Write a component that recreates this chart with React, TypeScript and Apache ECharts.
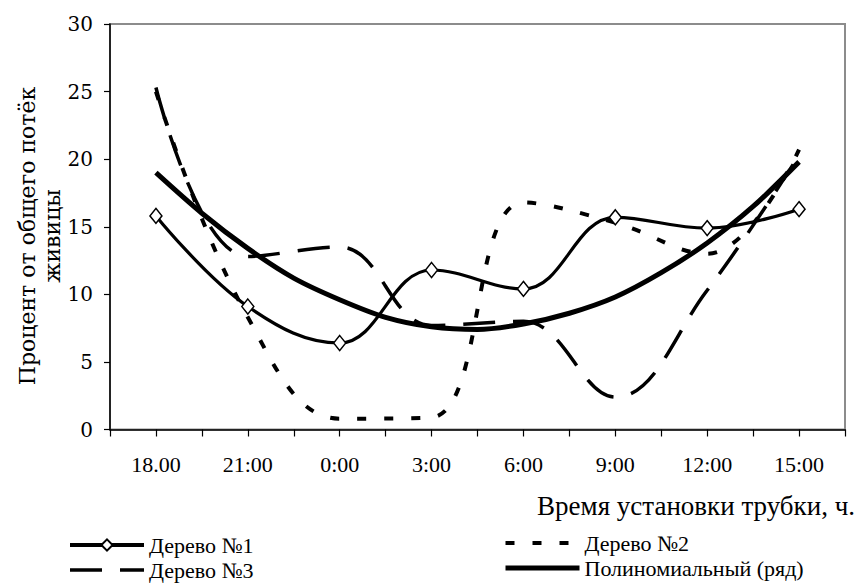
import React, { useEffect, useRef } from "react";
import * as echarts from "echarts";

const timeLabels = ["18.00", "21:00", "0:00", "3:00", "6:00", "9:00", "12:00", "15:00"];
const xSlots = [1, 3, 5, 7, 9, 11, 13, 15];
const tree1 = [15.8, 9.1, 6.4, 11.8, 10.4, 15.7, 14.9, 16.3];
const tree2 = [25.0, 8.3, 0.8, 0.9, 16.8, 15.3, 13.0, 20.7];
const tree3 = [25.3, 12.8, 13.5, 7.7, 8.0, 2.4, 10.3, 20.3];
// trend curve read at every tick (half-step) position
const polySlots = [1, 2, 3, 4, 5, 6, 7, 8, 9, 10, 11, 12, 13, 14, 15];
const poly = [19.0, 16.0, 13.4, 11.2, 9.6, 8.3, 7.6, 7.4, 7.8, 8.6, 9.8, 11.6, 13.8, 16.5, 19.8];
const seriesNames = ["Дерево №1", "Дерево №2", "Дерево №3", "Полиномиальный (ряд)"];
const yTitle = "Процент от общего потёк\nживицы";
const xTitle = "Время установки трубки, ч.";

const pairs = (xs: number[], vals: number[]) => xs.map((x, i) => [x, vals[i]]);

export default function App() {
  const ref = useRef<HTMLDivElement>(null);
  useEffect(() => {
    if (!ref.current) return;
    const chart = echarts.init(ref.current, undefined, { renderer: "svg" });
    const serif = "'Liberation Serif', 'Times New Roman', serif";
    const tickFont = "'DejaVu Serif', 'Liberation Serif', serif";
    const labelMap: Record<number, string> = {};
    xSlots.forEach((x, i) => (labelMap[x] = timeLabels[i]));
    const noMark = { color: "rgba(0,0,0,0)", borderWidth: 0 };
    const legendText = { fontFamily: serif, fontSize: 22, color: "#000", lineHeight: 24 };
    chart.setOption({
      animation: false,
      backgroundColor: "#fff",
      grid: {
        left: 110,
        right: 16,
        top: 24,
        bottom: 154.5,
        show: true,
        borderColor: "#8c8c8c",
        borderWidth: 2,
        backgroundColor: "transparent",
      },
      xAxis: {
        type: "value",
        min: 0,
        max: 16,
        interval: 1,
        axisLine: { show: true, onZero: false, lineStyle: { color: "#000", width: 1.5 } },
        axisTick: { show: true, inside: false, length: 7, lineStyle: { color: "#000", width: 1.2 } },
        splitLine: { show: false },
        axisLabel: {
          margin: 24,
          fontFamily: serif,
          fontSize: 22,
          color: "#000",
          formatter: (v: number) => labelMap[v] || "",
        },
      },
      yAxis: {
        type: "value",
        min: 0,
        max: 30,
        interval: 5,
        axisLine: { show: true, lineStyle: { color: "#000", width: 1.5 } },
        axisTick: { show: true, inside: false, length: 6, lineStyle: { color: "#000", width: 1.2 } },
        splitLine: { show: false },
        axisLabel: {
          margin: 17,
          fontFamily: tickFont,
          fontSize: 20,
          color: "#000",
        },
      },
      legend: [
        {
          data: [
            { name: seriesNames[0], lineStyle: { width: 4 } },
            { name: seriesNames[2], itemStyle: noMark, lineStyle: { width: 3.5 } },
          ],
          orient: "vertical",
          left: 68,
          top: 533,
          padding: 0,
          itemWidth: 74,
          itemHeight: 14,
          itemGap: 1,
          selectedMode: false,
          textStyle: legendText,
        },
        {
          data: [
            { name: seriesNames[1], itemStyle: noMark, lineStyle: { width: 4 } },
            { name: seriesNames[3], itemStyle: noMark, lineStyle: { width: 5 } },
          ],
          orient: "vertical",
          left: 503,
          top: 531,
          padding: 0,
          itemWidth: 74,
          itemHeight: 14,
          itemGap: 1,
          selectedMode: false,
          textStyle: legendText,
        },
      ],
      graphic: [
        {
          type: "text",
          x: 40,
          y: 236,
          rotation: Math.PI / 2,
          style: {
            text: yTitle,
            fontFamily: tickFont,
            fontSize: 22,
            lineHeight: 25,
            fill: "#000",
            textAlign: "center",
            textVerticalAlign: "middle",
          },
        },
        {
          type: "text",
          x: 855,
          y: 506,
          style: {
            text: xTitle,
            fontFamily: serif,
            fontSize: 27,
            fill: "#000",
            textAlign: "right",
            textVerticalAlign: "middle",
          },
        },
      ],
      series: [
        {
          name: seriesNames[3],
          type: "line",
          data: pairs(polySlots, poly),
          smooth: 0.3,
          symbol: "none",
          color: "#000",
          lineStyle: { color: "#000", width: 5 },
          z: 2,
        },
        {
          name: seriesNames[1],
          type: "line",
          data: pairs(xSlots, tree2),
          smooth: 0.4,
          symbol: "none",
          color: "#000",
          lineStyle: { color: "#000", width: 4, type: [9, 18] },
          z: 3,
        },
        {
          name: seriesNames[2],
          type: "line",
          data: pairs(xSlots, tree3),
          smooth: 0.4,
          symbol: "none",
          color: "#000",
          lineStyle: { color: "#000", width: 3.5, type: [32, 18] },
          z: 3,
        },
        {
          name: seriesNames[0],
          type: "line",
          data: pairs(xSlots, tree1),
          smooth: 0.4,
          symbol: "diamond",
          symbolSize: [12, 15],
          itemStyle: { color: "#fff", borderColor: "#000", borderWidth: 1.5 },
          lineStyle: { color: "#000", width: 3.2 },
          z: 4,
        },
      ],
    });
    return () => chart.dispose();
  }, []);
  return (
    <div
      ref={ref}
      style={{ position: "fixed", left: 0, top: 0, width: 861, height: 584, background: "#fff" }}
    />
  );
}
